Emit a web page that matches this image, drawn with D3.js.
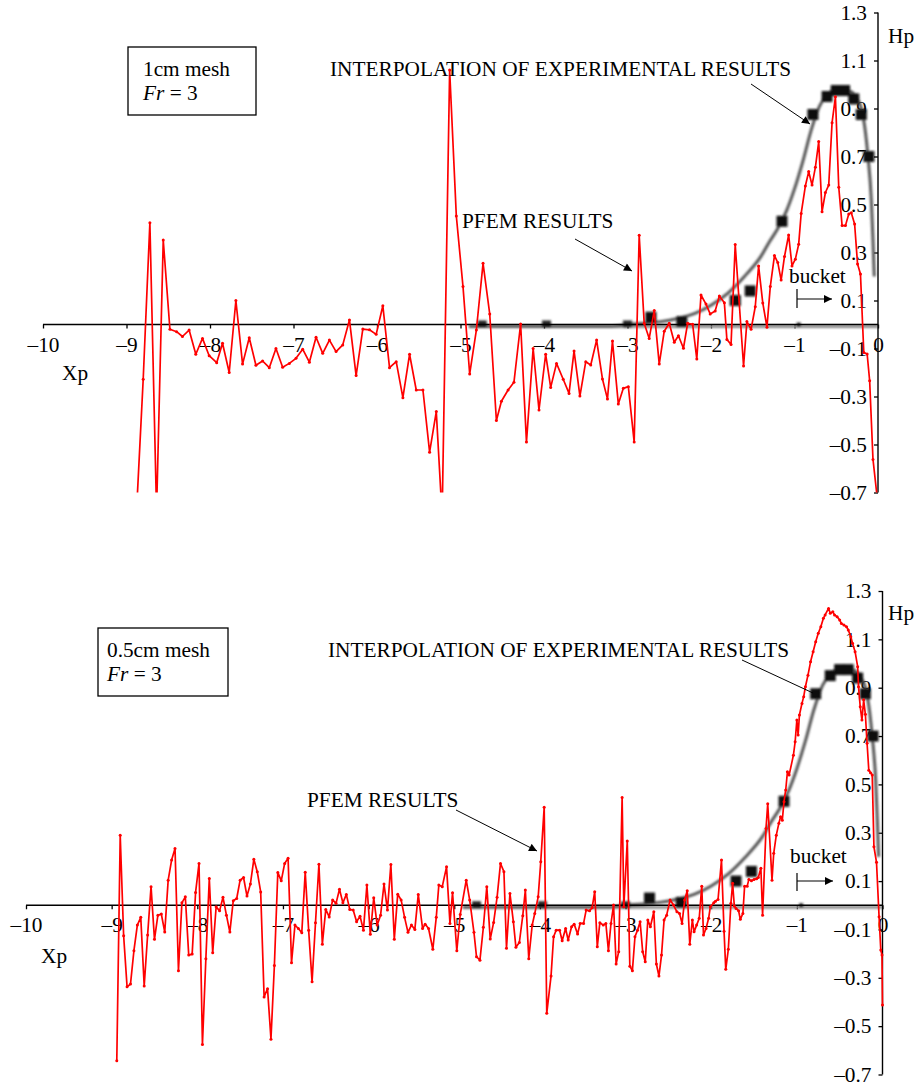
<!DOCTYPE html>
<html><head><meta charset="utf-8">
<script src="https://cdn.jsdelivr.net/npm/d3@7"></script>
<style>
body{margin:0;background:#fff;}
svg{display:block;font-family:"Liberation Serif","Times New Roman",serif;}
</style></head><body>
<svg id="c" width="921" height="1085"></svg>
<script>
// ---------- data ----------
const xTicks = [-10,-9,-8,-7,-6,-5,-4,-3,-2,-1,0];
const xTickLabels = ["–10","–9","–8","–7","–6","–5","–4","–3","–2","–1","0"];
const yTicks = [-0.7,-0.5,-0.3,-0.1,0.1,0.3,0.5,0.7,0.9,1.1,1.3];
const yTickLabels = ["–0.7","–0.5","–0.3","–0.1","0.1","0.3","0.5","0.7","0.9","1.1","1.3"];

// interpolation of experimental results (same in both panels)
const expCurveX = [-4.9,-3.2,-3.0,-2.8,-2.6,-2.4,-2.2,-2.0,-1.8,-1.6,-1.4,-1.3,-1.2,-1.1,-1.0,-0.9,-0.8,-0.7,-0.6,-0.5,-0.4,-0.3,-0.2,-0.15,-0.12,-0.08,-0.06,-0.045];
const expCurveY = [-0.008,-0.008,0.0,0.005,0.012,0.025,0.045,0.08,0.13,0.2,0.285,0.345,0.4,0.47,0.565,0.68,0.81,0.91,0.96,0.985,0.98,0.965,0.9,0.8,0.7,0.52,0.35,0.2];
const expBaseX = [-4.9,0];
const expBaseY = [-0.008,-0.008];
const expPointX = [-2.72,-2.35,-1.71,-1.53,-1.15,-0.78,-0.61,-0.50,-0.40,-0.29,-0.20,-0.11];
const expPointY = [0.03,0.012,0.10,0.14,0.43,0.875,0.95,0.975,0.975,0.94,0.875,0.70];
const expBedX = [-4.74,-3.97,-3.0,-0.95];
const expBedY = [0,0,0,0];

// PFEM results, 1cm mesh
const pfem1X = [-8.88,-8.80,-8.72,-8.64,-8.56,-8.48,-8.40,-8.33,-8.25,-8.17,-8.09,-8.01,-7.92,-7.85,-7.77,-7.69,-7.61,-7.53,-7.45,-7.37,-7.29,-7.21,-7.13,-7.05,-6.97,-6.89,-6.81,-6.73,-6.65,-6.57,-6.49,-6.41,-6.33,-6.25,-6.17,-6.09,-6.01,-5.93,-5.85,-5.77,-5.69,-5.61,-5.53,-5.45,-5.37,-5.29,-5.22,-5.13,-5.05,-4.97,-4.89,-4.81,-4.73,-4.65,-4.57,-4.51,-4.43,-4.36,-4.28,-4.21,-4.13,-4.06,-3.98,-3.92,-3.85,-3.77,-3.70,-3.64,-3.57,-3.50,-3.44,-3.37,-3.30,-3.24,-3.18,-3.11,-3.05,-2.99,-2.92,-2.86,-2.80,-2.74,-2.68,-2.62,-2.56,-2.50,-2.44,-2.39,-2.33,-2.28,-2.22,-2.17,-2.12,-2.06,-2.01,-1.95,-1.90,-1.84,-1.81,-1.76,-1.71,-1.61,-1.57,-1.52,-1.47,-1.43,-1.38,-1.33,-1.29,-1.24,-1.20,-1.16,-1.12,-1.07,-1.03,-0.99,-0.95,-0.92,-0.87,-0.83,-0.79,-0.75,-0.71,-0.67,-0.63,-0.59,-0.55,-0.51,-0.47,-0.43,-0.39,-0.35,-0.32,-0.28,-0.245,-0.21,-0.17,-0.13,-0.10,-0.06,-0.01];
const pfem1Y = [-0.78,-0.228,0.424,-0.78,0.352,-0.02,-0.03,-0.05,-0.023,-0.124,-0.058,-0.13,-0.159,-0.078,-0.20,0.10,-0.165,-0.055,-0.17,-0.152,-0.18,-0.10,-0.178,-0.162,-0.141,-0.103,-0.157,-0.053,-0.12,-0.065,-0.113,-0.085,0.019,-0.213,-0.019,-0.022,-0.041,0.078,-0.18,-0.155,-0.305,-0.124,-0.273,-0.273,-0.532,-0.363,-0.80,1.06,0.452,0.158,-0.206,-0.023,0.255,0.044,-0.40,-0.32,-0.273,-0.241,0.002,-0.49,-0.10,-0.356,-0.124,-0.262,-0.162,-0.228,-0.287,-0.11,-0.298,-0.155,-0.169,-0.065,-0.227,-0.31,-0.069,-0.331,-0.266,-0.259,-0.49,0.372,0.005,-0.058,0.058,-0.165,-0.028,0.005,-0.074,-0.047,-0.099,0.005,0.001,-0.144,0.123,0.085,0.044,0.056,0.119,0.091,-0.062,-0.083,0.333,-0.173,0.012,-0.02,0.074,0.244,0.09,-0.011,0.158,0.287,0.258,0.185,0.283,0.373,0.244,0.272,0.334,0.463,0.577,0.637,0.581,0.655,0.762,0.47,0.55,0.581,0.841,0.949,0.572,0.412,0.412,0.46,0.466,0.419,0.252,0.21,-0.117,-0.123,-0.234,-0.562,-0.72];

// PFEM results, 0.5cm mesh
const pfem05X = [-8.94,-8.90,-8.86,-8.82,-8.78,-8.74,-8.70,-8.66,-8.62,-8.58,-8.54,-8.50,-8.46,-8.42,-8.38,-8.34,-8.30,-8.26,-8.22,-8.18,-8.14,-8.10,-8.06,-8.02,-7.98,-7.94,-7.90,-7.86,-7.82,-7.78,-7.74,-7.70,-7.66,-7.62,-7.58,-7.54,-7.50,-7.46,-7.42,-7.38,-7.34,-7.30,-7.26,-7.22,-7.18,-7.14,-7.10,-7.06,-7.02,-6.98,-6.94,-6.90,-6.86,-6.82,-6.78,-6.74,-6.70,-6.66,-6.62,-6.58,-6.54,-6.50,-6.46,-6.42,-6.38,-6.34,-6.30,-6.26,-6.22,-6.18,-6.14,-6.10,-6.06,-6.02,-5.98,-5.94,-5.90,-5.86,-5.82,-5.78,-5.74,-5.70,-5.66,-5.62,-5.58,-5.54,-5.50,-5.46,-5.42,-5.37,-5.34,-5.30,-5.25,-5.21,-5.18,-5.14,-5.09,-5.05,-5.02,-4.97,-4.93,-4.86,-4.82,-4.77,-4.74,-4.70,-4.66,-4.62,-4.58,-4.54,-4.50,-4.46,-4.42,-4.39,-4.35,-4.31,-4.28,-4.24,-4.20,-4.17,-4.13,-4.09,-4.06,-4.02,-3.99,-3.95,-3.92,-3.87,-3.84,-3.81,-3.77,-3.74,-3.70,-3.67,-3.63,-3.60,-3.56,-3.53,-3.49,-3.46,-3.42,-3.39,-3.36,-3.33,-3.30,-3.26,-3.23,-3.20,-3.17,-3.14,-3.11,-3.08,-3.04,-3.02,-2.98,-2.95,-2.92,-2.89,-2.86,-2.83,-2.80,-2.77,-2.74,-2.71,-2.67,-2.64,-2.61,-2.58,-2.55,-2.52,-2.48,-2.44,-2.40,-2.37,-2.34,-2.31,-2.28,-2.25,-2.22,-2.20,-2.17,-2.14,-2.11,-2.09,-2.06,-2.03,-2.01,-1.97,-1.95,-1.92,-1.88,-1.85,-1.83,-1.80,-1.77,-1.75,-1.73,-1.71,-1.68,-1.66,-1.63,-1.61,-1.58,-1.56,-1.53,-1.50,-1.47,-1.45,-1.42,-1.40,-1.36,-1.34,-1.29,-1.27,-1.24,-1.21,-1.19,-1.17,-1.15,-1.13,-1.11,-1.09,-1.04,-1.02,-1.00,-0.985,-0.97,-0.94,-0.92,-0.90,-0.87,-0.84,-0.81,-0.78,-0.75,-0.72,-0.69,-0.67,-0.63,-0.61,-0.58,-0.56,-0.53,-0.50,-0.48,-0.45,-0.42,-0.40,-0.37,-0.35,-0.32,-0.29,-0.28,-0.26,-0.24,-0.22,-0.20,-0.18,-0.16,-0.14,-0.12,-0.10,-0.07,-0.04,-0.02,-0.006,0.0];
const pfem05Y = [-0.643,0.29,-0.126,-0.337,-0.326,-0.188,-0.082,-0.05,-0.334,-0.123,0.077,-0.141,-0.041,-0.036,-0.111,0.104,0.187,0.235,-0.271,0.01,0.035,-0.206,-0.202,0.053,0.173,-0.576,-0.221,0.111,-0.196,-0.006,-0.023,0.033,-0.041,-0.111,0.019,0.028,0.104,0.115,0.038,0.088,0.19,0.139,0.055,-0.379,-0.345,-0.554,-0.249,0.136,0.101,0.173,0.195,-0.238,-0.082,-0.096,-0.114,0.137,-0.103,-0.316,-0.072,0.17,-0.161,-0.017,-0.048,0.022,0.008,0.066,0.01,0.045,-0.017,-0.02,-0.068,-0.045,-0.103,0.084,-0.12,0.031,-0.082,-0.041,0.088,-0.02,0.169,-0.141,0.046,0.022,-0.05,-0.112,-0.082,-0.1,0.045,-0.096,-0.078,-0.096,-0.182,-0.05,0.084,0.077,0.159,-0.075,0.052,-0.188,-0.038,0.104,0.022,-0.112,-0.213,-0.227,-0.091,0.077,-0.14,-0.071,0.033,0.173,0.139,-0.178,0.049,-0.068,-0.174,-0.154,-0.043,0.063,-0.221,-0.082,-0.034,0.035,0.18,0.405,-0.447,-0.293,-0.13,-0.103,-0.103,-0.147,-0.096,-0.144,-0.089,-0.078,-0.119,-0.075,-0.075,-0.02,-0.023,-0.01,0.056,-0.172,-0.072,-0.082,-0.075,-0.188,-0.075,0.001,-0.243,-0.192,0.446,-0.006,0.266,-0.252,-0.271,-0.13,-0.103,-0.068,-0.192,-0.234,-0.061,-0.089,-0.027,-0.243,-0.293,-0.206,-0.061,-0.041,0.022,0.001,-0.027,-0.034,-0.075,0.022,0.06,-0.161,-0.061,-0.11,-0.082,-0.054,0.079,-0.123,-0.096,-0.054,-0.006,0.01,0.017,0.024,0.187,-0.107,-0.265,-0.182,0.008,0.091,-0.003,-0.013,-0.023,-0.058,-0.034,0.079,0.079,0.107,0.101,0.107,0.11,0.115,0.153,-0.041,0.318,0.42,0.104,0.215,0.29,0.339,0.366,0.352,0.428,0.477,0.552,0.539,0.621,0.676,0.766,0.704,0.787,0.835,0.863,0.904,0.952,1.007,1.049,1.09,1.125,1.152,1.187,1.201,1.228,1.208,1.214,1.201,1.194,1.18,1.166,1.159,1.152,1.139,1.111,1.084,1.049,0.987,0.904,0.821,0.766,0.85,0.79,0.67,0.559,0.548,0.539,0.242,0.178,-0.047,-0.185,-0.206,-0.413];

const panelLabels = [["1cm mesh","Fr"," = 3"],["0.5cm mesh","Fr"," = 3"]];
const expLabel = "INTERPOLATION OF EXPERIMENTAL RESULTS";
const pfemLabel = "PFEM RESULTS";
const bucketLabel = "bucket";
const xAxisLabel = "Xp";
const yAxisLabel = "Hp";

// ---------- drawing ----------
const svg = d3.select("#c");
const FS = 21.3;
const defs = svg.append("defs");
defs.append("marker").attr("id","ah").attr("viewBox","0 0 10 10").attr("refX",10).attr("refY",5)
  .attr("markerWidth",10).attr("markerHeight",8).attr("markerUnits","userSpaceOnUse").attr("orient","auto")
  .append("path").attr("d","M0,0 L10,5 L0,10 Z").attr("fill","#000");
defs.append("filter").attr("id","blur").attr("x","-20%").attr("y","-20%").attr("width","140%").attr("height","140%")
  .append("feGaussianBlur").attr("stdDeviation",0.9);

const panels = [
  {xr:[43,878], yr:[492.5,12.5], px:pfem1X, py:pfem1Y, lab:panelLabels[0],
   box:[128,47,128,68], boxText:[143,75.5,100],
   expText:[330,76], expArrow:[751,84,810,124], expHead:true,
   pfemText:[462,228], pfemArrow:[575,239,632,271],
   bucket:[789,283], bucketBr:[797,289,308,299,832],
   hp:[888,43], xp:[62,380]},
  {xr:[26,882.5], yr:[1074.5,591], px:pfem05X, py:pfem05Y, lab:panelLabels[1],
   box:[98,628,130,68], boxText:[107,656.5,681],
   expText:[328,657], expArrow:[742,660,813,693], expHead:false,
   pfemText:[307,807], pfemArrow:[456,810,537,851],
   bucket:[790,863], bucketBr:[797,873,891,881,833],
   hp:[888,620], xp:[41,963]}
];

panels.forEach((p,i)=>{
  const x = d3.scaleLinear().domain([-10,0]).range(p.xr);
  const y = d3.scaleLinear().domain([-0.7,1.3]).range(p.yr);
  const g = svg.append("g");

  // y axis (right side, ticks pointing left)
  const ya = g.append("g").attr("transform",`translate(${x(0)},0)`)
    .call(d3.axisLeft(y).tickValues(yTicks).tickFormat((d,k)=>yTickLabels[k]).tickSize(4).tickSizeOuter(0).tickPadding(7));
  // x axis at y=0
  const xa = g.append("g").attr("transform",`translate(0,${y(0)})`)
    .call(d3.axisBottom(x).tickValues(xTicks).tickFormat((d,k)=>xTickLabels[k]).tickSize(4).tickSizeOuter(0).tickPadding(8));
  [ya,xa].forEach(a=>{
    a.selectAll("text").attr("font-family","Liberation Serif").attr("font-size",FS).attr("fill","#000");
    a.selectAll("line,path").attr("stroke","#000").attr("stroke-width",1.3);
  });
  ya.select(".domain").remove();
  xa.select(".domain").remove();

  // experimental interpolation
  const eg = g.append("g").attr("filter","url(#blur)");
  eg.append("path").datum(expBaseX.map((v,k)=>[v,expBaseY[k]]))
    .attr("d",d3.line().x(d=>x(d[0])).y(d=>y(d[1])))
    .attr("fill","none").attr("stroke","#8a8a8a").attr("stroke-width",3);
  const expData = expCurveX.map((v,k)=>[v,expCurveY[k]]);
  eg.append("path").datum(expData)
    .attr("d",d3.line().x(d=>x(d[0])).y(d=>y(d[1])).curve(d3.curveMonotoneX))
    .attr("fill","none").attr("stroke","#555").attr("stroke-width",3);
  eg.selectAll("rect.sq").data(expPointX.map((v,k)=>[v,expPointY[k]])).enter().append("rect")
    .attr("x",d=>x(d[0])-5.5).attr("y",d=>y(d[1])-5.5).attr("width",11).attr("height",11).attr("fill","#111");
  eg.selectAll("rect.bed").data(expBedX.map((v,k)=>[v,expBedY[k]])).enter().append("rect")
    .attr("x",(d,k)=>x(d[0])-(k===3?2:4.5)).attr("y",(d,k)=>y(d[1])-(k===3?2:4))
    .attr("width",(d,k)=>k===3?4:9).attr("height",(d,k)=>k===3?4:7).attr("fill","#222");

  // axis lines
  g.append("line").attr("x1",x(-10)).attr("x2",x(0)).attr("y1",y(0)).attr("y2",y(0)).attr("stroke","#000").attr("stroke-width",1.4);
  g.append("line").attr("x1",x(0)).attr("x2",x(0)).attr("y1",y(1.3)).attr("y2",y(-0.7)).attr("stroke","#000").attr("stroke-width",1.4);

  // PFEM results
  const cid = "clip"+i;
  defs.append("clipPath").attr("id",cid).append("rect")
    .attr("x",x(-10)).attr("y",y(1.3)).attr("width",x(0)-x(-10)+3).attr("height",y(-0.7)-y(1.3));
  const rg = g.append("g").attr("clip-path",`url(#${cid})`);
  const pd = p.px.map((v,k)=>[v,p.py[k]]);
  rg.append("path").datum(pd).attr("d",d3.line().x(d=>x(d[0])).y(d=>y(d[1])))
    .attr("fill","none").attr("stroke","#ff0000").attr("stroke-width",1.7).attr("stroke-linejoin","round");
  rg.selectAll("circle").data(pd).enter().append("circle")
    .attr("cx",d=>x(d[0])).attr("cy",d=>y(d[1])).attr("r",1.5).attr("fill","#ff0000");

  // annotations
  const T = (tx,ty,s)=>g.append("text").attr("x",tx).attr("y",ty).attr("font-size",FS).attr("fill","#000").text(s);
  g.append("rect").attr("x",p.box[0]).attr("y",p.box[1]).attr("width",p.box[2]).attr("height",p.box[3])
    .attr("fill","none").attr("stroke","#000").attr("stroke-width",1.3);
  T(p.boxText[0],p.boxText[1],p.lab[0]);
  const ft = g.append("text").attr("x",p.boxText[0]).attr("y",p.boxText[2]).attr("font-size",FS);
  ft.append("tspan").attr("font-style","italic").text(p.lab[1]);
  ft.append("tspan").text(p.lab[2]);
  T(p.expText[0],p.expText[1],expLabel);
  const ea = g.append("line").attr("x1",p.expArrow[0]).attr("y1",p.expArrow[1]).attr("x2",p.expArrow[2]).attr("y2",p.expArrow[3])
    .attr("stroke","#000").attr("stroke-width",1);
  if(p.expHead) ea.attr("marker-end","url(#ah)");
  T(p.pfemText[0],p.pfemText[1],pfemLabel);
  g.append("line").attr("x1",p.pfemArrow[0]).attr("y1",p.pfemArrow[1]).attr("x2",p.pfemArrow[2]).attr("y2",p.pfemArrow[3])
    .attr("stroke","#000").attr("stroke-width",1).attr("marker-end","url(#ah)");
  T(p.bucket[0],p.bucket[1],bucketLabel);
  const b = p.bucketBr;
  g.append("line").attr("x1",b[0]).attr("x2",b[0]).attr("y1",b[1]).attr("y2",b[2]).attr("stroke","#000").attr("stroke-width",1.2);
  g.append("line").attr("x1",b[0]).attr("x2",b[4]).attr("y1",b[3]).attr("y2",b[3]).attr("stroke","#000").attr("stroke-width",1.2).attr("marker-end","url(#ah)");
  T(p.hp[0],p.hp[1],yAxisLabel);
  T(p.xp[0],p.xp[1],xAxisLabel);
});
</script>
</body></html>
